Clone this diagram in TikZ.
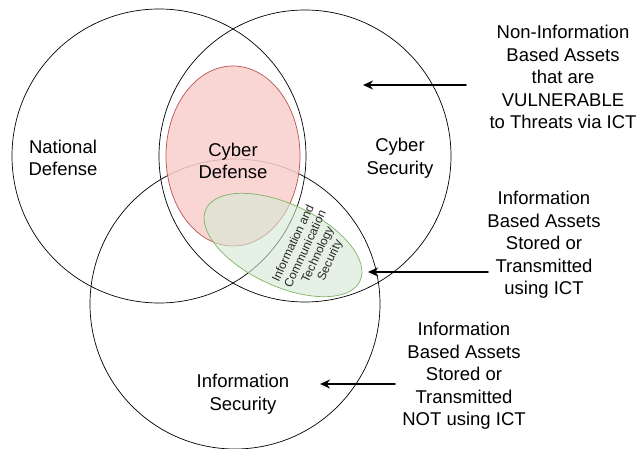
\documentclass[tikz,border=0pt]{standalone}
\usepackage{fontspec}
\setmainfont{Liberation Sans}
\usetikzlibrary{shapes.geometric,arrows.meta}
\definecolor{cdfill}{HTML}{F8CECC}
\definecolor{cdline}{HTML}{B85450}
\definecolor{ictfill}{HTML}{D5E8D4}
\definecolor{ictline}{HTML}{82B366}
\begin{document}
\begin{tikzpicture}[x=1pt, y=-1pt, line join=round, line cap=round,
    >={Stealth[length=10pt,width=9pt]},
    set/.style={circle, draw, line width=0.7pt, minimum size=#1, inner sep=0pt},
    lbl/.style={align=center, font=\fontsize{18.5}{22.5}\selectfont},
    ptr/.style={->, line width=1.8pt}]
    \useasboundingbox (0,0) rectangle (639,449);
    % the three big sets
    \node[set=294pt] (natdef) at (159,156) {};
    \node[set=292pt] (cybsec) at (305,156) {};
    \node[set=290pt] (infsec) at (235,304) {};
    % cyber defense and ICT security on top
    \node[ellipse, draw=cdline, fill=cdfill, fill opacity=0.85, line width=0.7pt,
        minimum width=134pt, minimum height=180pt, inner sep=0pt] (cybdef) at (233,156) {};
    \node[ellipse, draw=ictline, fill=ictfill, fill opacity=0.6, line width=0.7pt,
        minimum width=170pt, minimum height=82pt, inner sep=0pt, rotate=-25] (ictsec) at (283,245) {};
    \node[lbl] (natlbl) at (63,158) {National\\Defense};
    \node[lbl] (cdlbl) at (233,161) {Cyber\\Defense};
    \node[lbl] (cslbl) at (400,158) {Cyber\\Security};
    \node[lbl] (islbl) at (243,394) {Information\\Security};
    \node[align=center, rotate=65, text=black!85, font=\fontsize{12}{13.5}\selectfont] (ictlbl) at (312,252)
        {Information and\\Communication\\Technology\\Security};
    % asset kinds and pointers
    \node[lbl] (nonict) at (563,77) {Non-Information\\Based Assets\\that are\\VULNERABLE\\to Threats via ICT};
    \node[lbl] (withict) at (544,245) {Information\\Based Assets\\Stored or\\Transmitted\\using ICT};
    \node[lbl] (noict) at (464,376) {Information\\Based Assets\\Stored or\\Transmitted\\NOT using ICT};
    \coordinate (p1) at (466,85);  \coordinate (q1) at (363,85);
    \coordinate (p2) at (488,272); \coordinate (q2) at (368,272);
    \coordinate (p3) at (395,384); \coordinate (q3) at (320,384);
    \draw[ptr] (p1) -- (q1);
    \draw[ptr] (p2) -- (q2);
    \draw[ptr] (p3) -- (q3);
\end{tikzpicture}
\end{document}
